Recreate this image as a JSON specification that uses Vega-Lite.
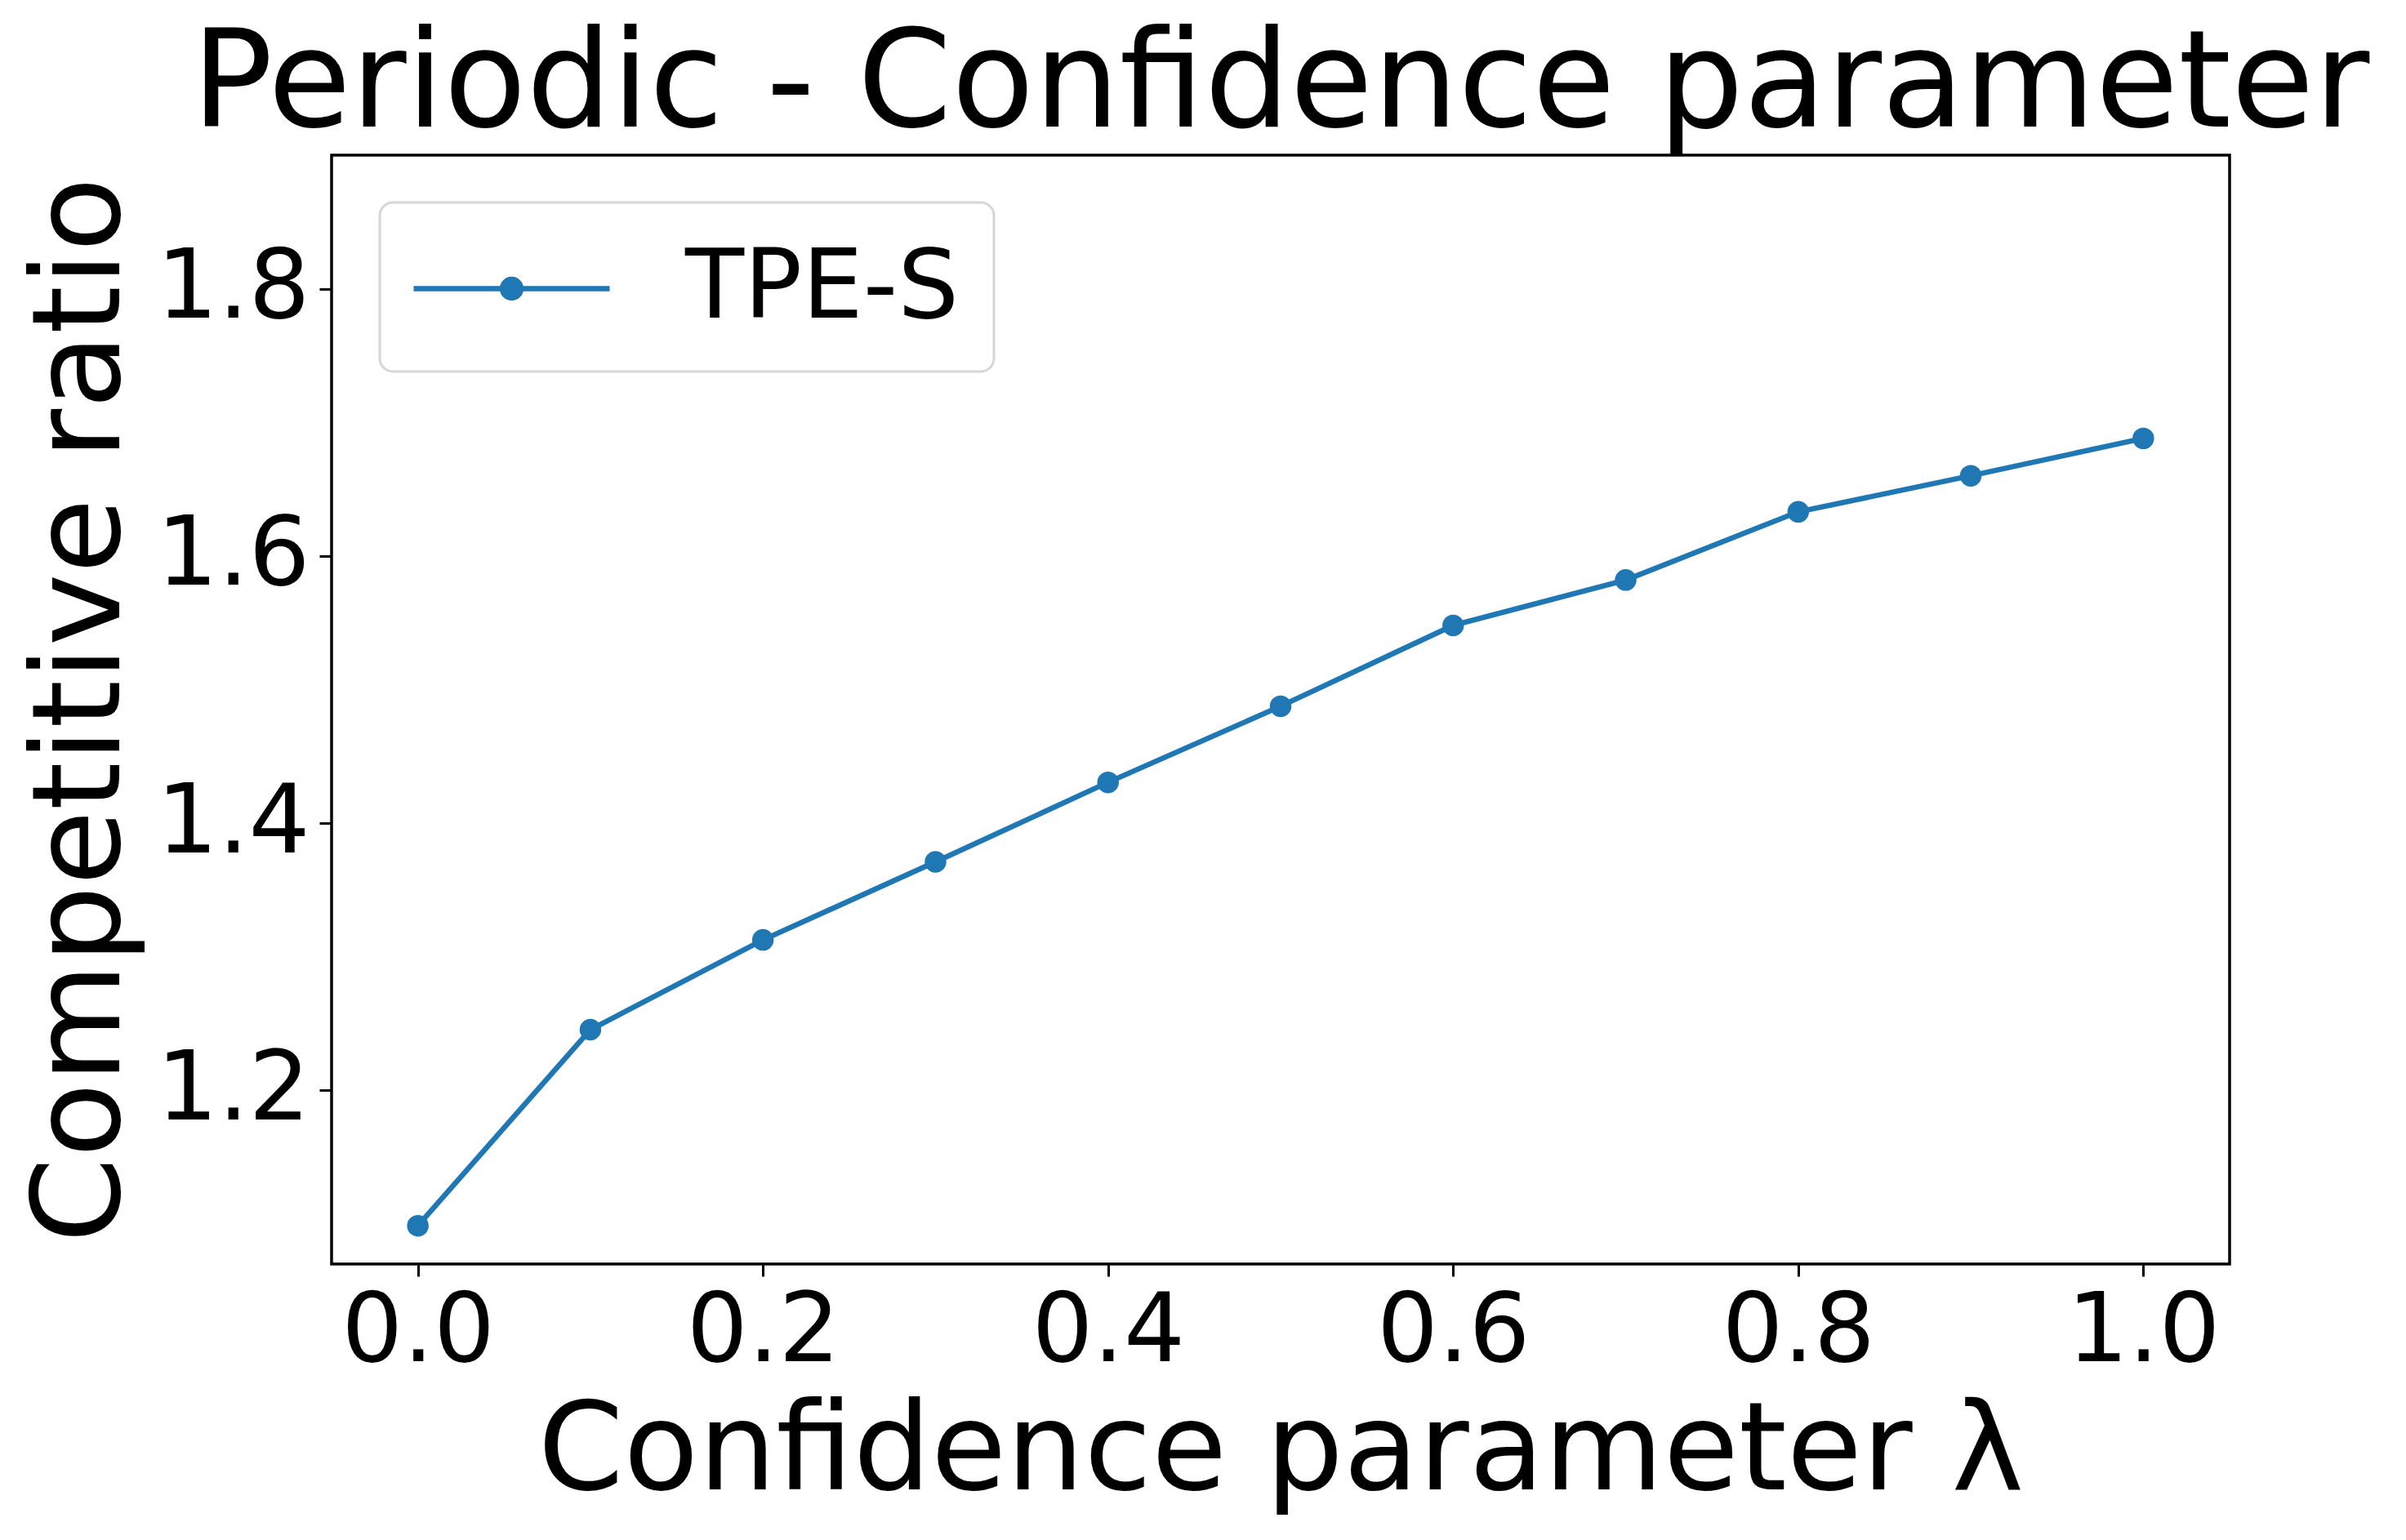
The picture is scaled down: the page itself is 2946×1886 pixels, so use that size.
{
  "$schema": "https://vega.github.io/schema/vega-lite/v6.json",
  "width": 2324,
  "height": 1358,
  "autosize": {"type": "none"},
  "padding": {"left": 406, "top": 190, "right": 216, "bottom": 338},
  "background": "white",
  "title": {
    "text": "Periodic - Confidence parameter",
    "font": "DejaVu Sans",
    "fontSize": 165,
    "fontWeight": "normal",
    "color": "black",
    "anchor": "middle",
    "offset": 0
  },
  "config": {
    "view": {"stroke": "black", "strokeWidth": 3.5},
    "axis": {
      "labelFont": "DejaVu Sans",
      "labelFontSize": 118,
      "labelColor": "black",
      "labelLimit": 0,
      "titleFont": "DejaVu Sans",
      "titleFontSize": 150,
      "titleFontWeight": "normal",
      "titleColor": "black",
      "titleLimit": 0,
      "tickColor": "black",
      "tickWidth": 3,
      "tickSize": 15,
      "grid": false,
      "domain": false
    }
  },
  "data": {
    "values": [
      {"lambda": 0.0, "ratio": 1.0986, "series": "TPE-S"},
      {"lambda": 0.1, "ratio": 1.2454, "series": "TPE-S"},
      {"lambda": 0.2, "ratio": 1.3126, "series": "TPE-S"},
      {"lambda": 0.3, "ratio": 1.371, "series": "TPE-S"},
      {"lambda": 0.4, "ratio": 1.4305, "series": "TPE-S"},
      {"lambda": 0.5, "ratio": 1.4875, "series": "TPE-S"},
      {"lambda": 0.6, "ratio": 1.548, "series": "TPE-S"},
      {"lambda": 0.7, "ratio": 1.582, "series": "TPE-S"},
      {"lambda": 0.8, "ratio": 1.633, "series": "TPE-S"},
      {"lambda": 0.9, "ratio": 1.660, "series": "TPE-S"},
      {"lambda": 1.0, "ratio": 1.688, "series": "TPE-S"}
    ]
  },
  "encoding": {
    "x": {
      "field": "lambda",
      "type": "quantitative",
      "scale": {"domain": [-0.05, 1.05], "nice": false, "zero": false},
      "axis": {
        "title": "Confidence parameter λ",
        "values": [0, 0.2, 0.4, 0.6, 0.8, 1.0],
        "format": ".1f",
        "labelPadding": 10,
        "titleBaseline": "alphabetic",
        "titleX": 1162,
        "titleY": 275
      }
    },
    "y": {
      "field": "ratio",
      "type": "quantitative",
      "scale": {"domain": [1.07, 1.9], "nice": false, "zero": false},
      "axis": {
        "title": "Competitive ratio",
        "values": [1.2, 1.4, 1.6, 1.8],
        "format": ".1f",
        "labelPadding": 12,
        "titleBaseline": "alphabetic",
        "titleAngle": -90,
        "titleX": -261,
        "titleY": 679
      }
    },
    "color": {
      "field": "series",
      "type": "nominal",
      "scale": {"range": ["#1f77b4"]},
      "legend": {
        "title": null,
        "orient": "none",
        "legendX": 59,
        "legendY": 58,
        "padding": 42,
        "fillColor": "white",
        "strokeColor": "#d6d6d6",
        "cornerRadius": 16,
        "labelFont": "DejaVu Sans",
        "labelFontSize": 118,
        "labelColor": "black",
        "labelLimit": 0,
        "labelOffset": 149,
        "symbolOffset": 56,
        "symbolType": "M-2,0H2M-0.19,0A0.19,0.19,0,1,0,0.19,0A0.19,0.19,0,1,0,-0.19,0Z",
        "symbolSize": 14400,
        "symbolStrokeWidth": 6.5,
        "symbolStrokeColor": "#1f77b4",
        "symbolFillColor": "#1f77b4",
        "symbolOpacity": 1,
        "encode": {
          "legend": {"update": {"strokeWidth": {"value": 3}}}
        }
      }
    }
  },
  "layer": [
    {
      "mark": {"type": "line", "strokeWidth": 6.5}
    },
    {
      "mark": {"type": "point", "filled": true, "size": 700, "opacity": 1}
    }
  ]
}
